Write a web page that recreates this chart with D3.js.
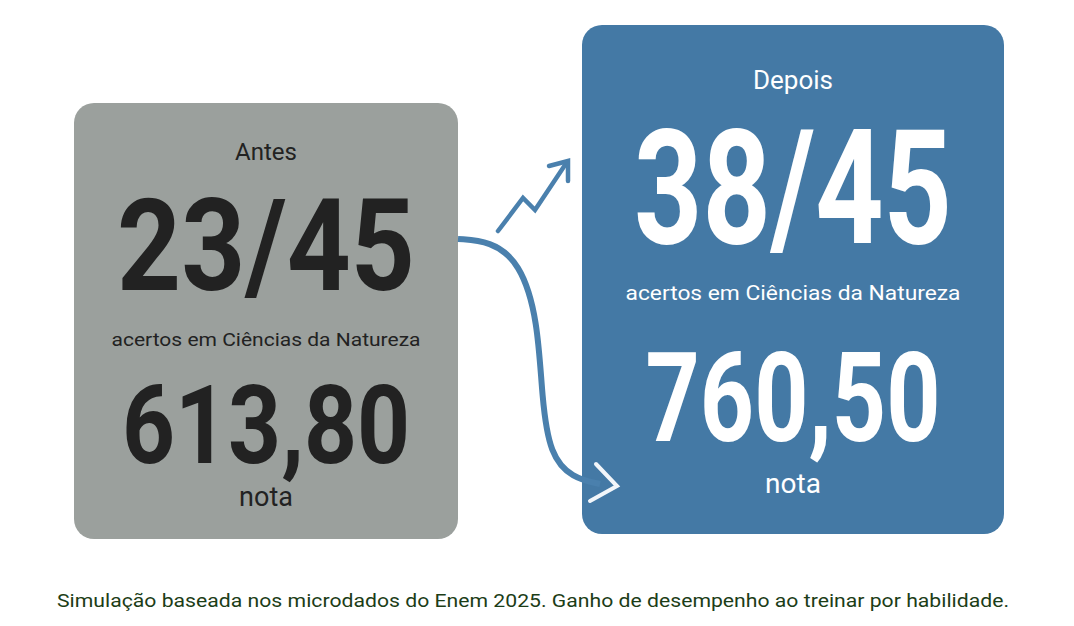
<!DOCTYPE html>
<html><head><meta charset="utf-8">
<script src="https://cdn.jsdelivr.net/npm/d3@7"></script>
<style>body{margin:0;background:#fff}svg{display:block}</style>
</head><body>
<script>
const labels = ["Antes", "Depois"];
const acertos = [23, 38];
const totalQuestoes = 45;
const notas = ["613,80", "760,50"];
const subtitulo = "acertos em Ciências da Natureza";
const notaLabel = "nota";
const caption = "Simulação baseada nos microdados do Enem 2025. Ganho de desempenho ao treinar por habilidade.";

const W = 1074, H = 626;
const svg = d3.select("body").append("svg").attr("width", W).attr("height", H);

// card layout
const cards = [
  {x:74, y:103, w:384, h:436, fill:"#9ba09d", ink:"#222222",
   t:{title:[160,24], big:[290,128,298], sub:[346,19,309], nota:[463,110,288], lab:[506,27]}},
  {x:582, y:25, w:422, h:509, fill:"#4479a5", ink:"#ffffff",
   t:{title:[89,26], big:[243,160,318], sub:[300,20,335], nota:[441,125,295], lab:[493,28]}}
];
const data = labels.map((l,i)=>({label:l, acertos:acertos[i], nota:notas[i], c:cards[i]}));

const g = svg.selectAll("g.card").data(data).join("g").attr("class","card");
g.append("rect")
  .attr("x", d=>d.c.x).attr("y", d=>d.c.y).attr("width", d=>d.c.w).attr("height", d=>d.c.h)
  .attr("rx", 20).attr("fill", d=>d.c.fill);

const cx = d => d.c.x + d.c.w/2;
function txt(sel, fn, key, family, weight, fit){
  sel.append("text")
    .attr("x", cx).attr("y", d=>d.c.t[key][0])
    .attr("text-anchor","middle")
    .attr("font-family", family).attr("font-weight", weight)
    .attr("font-size", d=>d.c.t[key][1])
    .attr("fill", d=>d.c.ink)
    .each(function(d){ if(fit){ d3.select(this).attr("textLength", d.c.t[key][2]).attr("lengthAdjust","spacingAndGlyphs"); } })
    .text(fn);
}
txt(g, d=>d.label, "title", "Roboto, sans-serif", 400, false);
txt(g, d=>`${d.acertos}/${totalQuestoes}`, "big", "Roboto, sans-serif", 700, true);
txt(g, d=>subtitulo, "sub", "Roboto, sans-serif", 400, true);
txt(g, d=>d.nota, "nota", "Roboto, sans-serif", 700, true);
txt(g, d=>notaLabel, "lab", "Roboto, sans-serif", 400, false);

// arrows
const line = d3.line().curve(d3.curveLinear);
const blue = "#4a80ad";
svg.append("path")
  .attr("d", line([[498,231],[523,198],[535,210],[567,162]]))
  .attr("fill","none").attr("stroke",blue).attr("stroke-width",4.5)
  .attr("stroke-linecap","round").attr("stroke-linejoin","miter");
svg.append("path")
  .attr("d", line([[549,166],[568,161],[568,181]]))
  .attr("fill","none").attr("stroke",blue).attr("stroke-width",4.5)
  .attr("stroke-linecap","round").attr("stroke-linejoin","miter");

const curve = d3.line().curve(d3.curveBasis);
svg.append("path")
  .attr("d", curve([[458,239],[490,241],[520,262],[538,320],[542,400],[550,455],[572,478],[600,484]]))
  .attr("fill","none").attr("stroke",blue).attr("stroke-width",6).attr("stroke-linecap","butt");
svg.append("path")
  .attr("d", line([[596,464],[617,486],[590,501]]))
  .attr("fill","none").attr("stroke","#f2f6fa").attr("stroke-width",4)
  .attr("stroke-linecap","round").attr("stroke-linejoin","miter");

svg.append("text")
  .attr("x", 533).attr("y", 607).attr("text-anchor","middle")
  .attr("font-family","'Liberation Sans Narrow', Roboto, sans-serif")
  .attr("font-size", 19).attr("fill","#1c3d17")
  .attr("textLength", 952).attr("lengthAdjust","spacingAndGlyphs")
  .text(caption);
</script>
</body></html>
